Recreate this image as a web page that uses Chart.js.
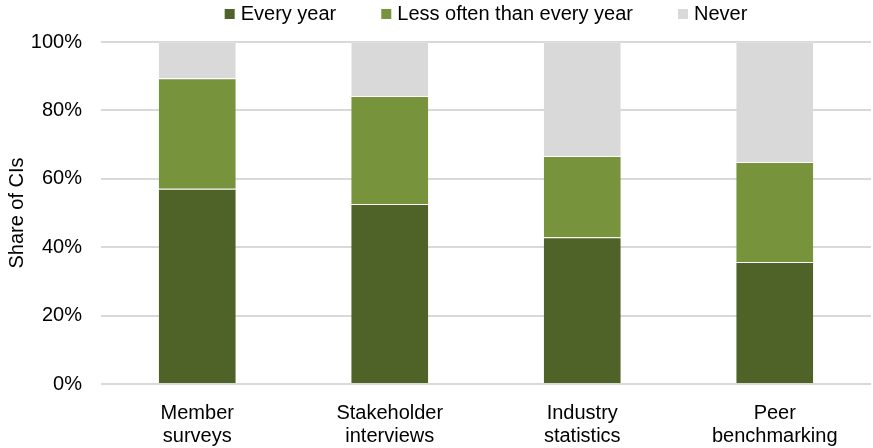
<!DOCTYPE html>
<html>
<head>
<meta charset="utf-8">
<script src="https://cdn.jsdelivr.net/npm/chart.js@4/dist/chart.umd.min.js"></script>
<style>
  html, body { margin: 0; padding: 0; background: #ffffff; }
  #wrap { width: 873px; height: 448px; }
</style>
</head>
<body>
<div id="wrap"><canvas id="chart" width="873" height="448"></canvas></div>
<script>
// Categories and survey shares (% of CIs)
const categories = [["Member", "surveys"], ["Stakeholder", "interviews"], ["Industry", "statistics"], ["Peer", "benchmarking"]];
const everyYear = [57.1, 52.6, 42.9, 35.7];
const lessOften = [32.3, 31.6, 23.8, 29.2];
const never = [10.6, 15.8, 33.3, 35.1];
const seriesNames = ["Every year", "Less often than every year", "Never"];
const yTicks = [0, 20, 40, 60, 80, 100];

const FONT = "'Liberation Sans', Arial, sans-serif";
const FONT_SIZE = 20;

// Legend drawn in a single row above the plot, centred on the chart area
const topLegend = {
  id: 'topLegend',
  afterDraw(chart) {
    const ctx = chart.ctx;
    const items = chart.data.datasets.map(ds => ({ text: ds.label, color: ds.backgroundColor }));
    const box = 10, gapBox = 6, gapItem = 45;
    ctx.save();
    ctx.font = FONT_SIZE + 'px ' + FONT;
    const widths = items.map(it => box + gapBox + ctx.measureText(it.text).width);
    const total = widths.reduce((a, b) => a + b, 0) + gapItem * (items.length - 1);
    const cx = (chart.chartArea.left + chart.chartArea.right) / 2;
    let x = cx - total / 2;
    const y = 14;
    ctx.textBaseline = 'middle';
    items.forEach((it, i) => {
      ctx.fillStyle = it.color;
      ctx.fillRect(x, y - box / 2, box, box);
      ctx.fillStyle = '#000000';
      ctx.fillText(it.text, x + box + gapBox, y);
      x += widths[i] + gapItem;
    });
    ctx.restore();
  }
};

new Chart(document.getElementById('chart'), {
  type: 'bar',
  data: {
    labels: categories,
    datasets: [
      { label: seriesNames[0], data: everyYear, backgroundColor: '#4F6228' },
      { label: seriesNames[1], data: lessOften, backgroundColor: '#77933C' },
      { label: seriesNames[2], data: never, backgroundColor: '#D9D9D9' }
    ]
  },
  options: {
    responsive: false,
    animation: false,
    layout: { padding: { top: 42, right: 2, left: 0, bottom: 0 } },
    datasets: {
      bar: {
        barPercentage: 0.4,
        categoryPercentage: 1.0,
        borderColor: 'rgba(255,255,255,0.22)',
        borderWidth: { top: 1, bottom: 0, left: 0, right: 0 },
        borderSkipped: false
      }
    },
    plugins: {
      legend: { display: false },
      tooltip: { enabled: false }
    },
    scales: {
      x: {
        stacked: true,
        grid: { display: false },
        border: { display: false },
        ticks: {
          color: '#000000',
          font: { family: FONT, size: FONT_SIZE, lineHeight: 1.15 },
          padding: 10,
          maxRotation: 0,
          autoSkip: false
        },
        afterFit(scale) { scale.height = 64; }
      },
      y: {
        stacked: true,
        min: 0,
        max: 100,
        afterBuildTicks(scale) { scale.ticks = yTicks.map(v => ({ value: v })); },
        grid: { color: '#D9D9D9', lineWidth: 2, drawTicks: false },
        border: { display: false },
        ticks: {
          color: '#000000',
          font: { family: FONT, size: FONT_SIZE },
          padding: 19,
          callback: v => v + '%'
        },
        title: {
          display: true,
          text: 'Share of CIs',
          color: '#000000',
          font: { family: FONT, size: FONT_SIZE },
          padding: { top: 5, bottom: 0 }
        },
        afterFit(scale) { scale.width = 101; }
      }
    }
  },
  plugins: [topLegend]
});
</script>
</body>
</html>
